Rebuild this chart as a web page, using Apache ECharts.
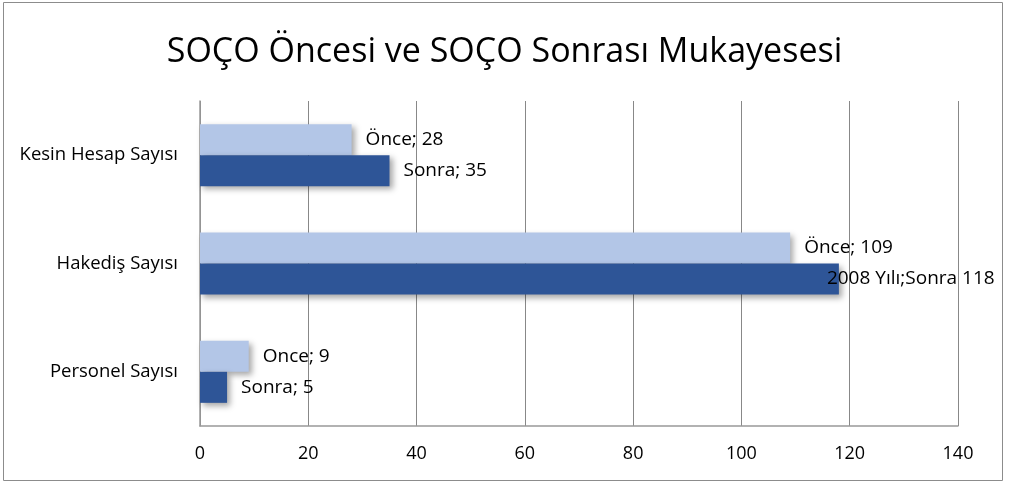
<!DOCTYPE html>
<html>
<head>
<meta charset="utf-8">
<script src="https://cdn.jsdelivr.net/npm/echarts@6/dist/echarts.min.js"></script>
<style>
html,body{margin:0;padding:0;background:#fff;}
#chart{width:1009px;height:483px;}
</style>
</head>
<body>
<div id="chart"></div>
<script>
const titleText = 'SOÇO Öncesi ve SOÇO Sonrası Mukayesesi';
const categories = ['Personel Sayısı', 'Hakediş Sayısı', 'Kesin Hesap Sayısı'];
const onceValues = [9, 109, 28];
const sonraValues = [5, 118, 35];
const onceLabels = ['Once; 9', 'Önce; 109', 'Önce; 28'];
const sonraLabels = ['Sonra; 5', '2008 Yılı;Sonra 118', 'Sonra; 35'];
const xMin = 0, xMax = 140, xStep = 20;

const FONT = '"Open Sans", "Noto Sans", sans-serif';
const chart = echarts.init(document.getElementById('chart'), null, {renderer: 'canvas'});

const shadow = {shadowBlur: 6, shadowOffsetX: 3, shadowOffsetY: 3, shadowColor: 'rgba(0,0,0,0.35)'};

function makeData(vals, labels, overrides) {
  return vals.map((v, i) => {
    const d = {value: v, label: {formatter: labels[i]}};
    if (overrides && overrides[i]) Object.assign(d.label, overrides[i]);
    return d;
  });
}

const barLabel = {show: true, position: 'right', distance: 14, fontFamily: FONT, fontSize: 19, color: '#000', padding: [5, 0, 0, 0]};

chart.setOption({
  animation: false,
  title: {
    text: titleText,
    left: 'center',
    top: 30,
    textStyle: {fontFamily: FONT, fontSize: 34, fontWeight: 'normal', color: '#000'}
  },
  graphic: [{
    type: 'rect',
    shape: {x: 3.5, y: 2.5, width: 999, height: 478},
    style: {fill: 'none', stroke: '#8c8c8c', lineWidth: 1},
    silent: true
  }],
  grid: {left: 200, right: 51, top: 101, bottom: 57, containLabel: false},
  xAxis: {
    type: 'value',
    min: xMin, max: xMax, interval: xStep,
    axisLine: {show: true, lineStyle: {color: '#999', width: 1.5}},
    axisTick: {show: false},
    splitLine: {show: true, lineStyle: {color: '#888', width: 1}},
    axisLabel: {fontFamily: FONT, fontSize: 18, color: '#000', margin: 19}
  },
  yAxis: {
    type: 'category',
    data: categories,
    axisLine: {show: true, lineStyle: {color: '#999', width: 1.5}},
    axisTick: {show: false},
    axisLabel: {fontFamily: FONT, fontSize: 18.5, color: '#000', margin: 22, padding: [8, 0, 0, 0]}
  },
  series: [
    {
      name: 'Önce',
      type: 'bar',
      data: makeData(onceValues, onceLabels),
      barWidth: 31,
      barGap: '0%',
      itemStyle: Object.assign({color: '#B3C6E7'}, shadow),
      label: barLabel
    },
    {
      name: 'Sonra',
      type: 'bar',
      data: makeData(sonraValues, sonraLabels, {1: {offset: [-26, 0]}}),
      barWidth: 31,
      barGap: '0%',
      itemStyle: Object.assign({color: '#2E5597'}, shadow),
      label: barLabel
    }
  ]
});
</script>
</body>
</html>
